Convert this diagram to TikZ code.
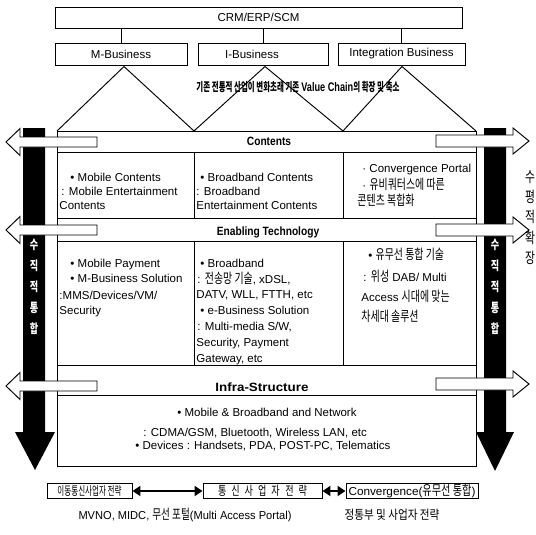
\documentclass[tikz,border=0pt]{standalone}
\usepackage{fontspec}
\usepackage{graphicx}
\setmainfont{Liberation Sans}
\newfontfamily\kr[Scale=1.2,FakeStretch=0.72]{Noto Sans CJK KR}
\newfontfamily\cb[FakeStretch=0.85]{Liberation Sans}
\newcommand\kor[1]{{\kr #1}}
\newcommand\fitw[2]{\resizebox{#1pt}{\height}{#2}}
\usetikzlibrary{arrows.meta}
\begin{document}
\begin{tikzpicture}[x=1pt,y=-1pt,line width=0.95pt,
  box/.style={draw, inner sep=0pt, font=\fontsize{11.5}{13}\selectfont},
  txt/.style={anchor=base west, inner sep=0pt, font=\fontsize{11.5}{13}\selectfont},
  ctxt/.style={anchor=base, inner sep=0pt, font=\fontsize{11.5}{13}\selectfont},
  bandlbl/.style={anchor=base, inner sep=0pt, font=\fontsize{12}{14}\cb\bfseries},
  titlelbl/.style={anchor=base, inner sep=0pt, font=\fontsize{10}{12}\cb\bfseries},
  vtxt/.style={anchor=center, inner sep=0pt, text=white, font=\fontsize{10.5}{12}\kr\bfseries},
  rtxt/.style={anchor=center, inner sep=0pt, font=\fontsize{12.5}{14}\kr},
  harrow/.style={draw, fill=white, line width=0.95pt, line join=miter},
  dblarrow/.style={{Triangle[length=8pt,width=10pt]}-{Triangle[length=8pt,width=10pt]}, line width=2.6pt}
]
\useasboundingbox (0,0) rectangle (536,535);

% top boxes
\node[box, minimum width=407pt, minimum height=21pt] (crm) at (258.5,17.5) {CRM/ERP/SCM};
\node[box, minimum width=132pt, minimum height=22pt] (mb) at (121,54) {M-Business};
\node[box, minimum width=130pt, minimum height=22pt] (ib) at (263,54) {\hspace*{-22pt}I-Business};
\node[box, minimum width=127pt, minimum height=22pt] (gb) at (401.5,54) {Integration Business};
\foreach \n in {mb,ib,gb} \draw (\n.north) -- (\n.north |- crm.south);

% zigzag
\draw (57,131) -- (124,66.5) -- (194,131) -- (265,66.5) -- (343,131) -- (402,66.5) -- (476,131);
\node[titlelbl] (vc) at (298,91.5) {\fitw{203}{\kor{기존 전통적 산업이 변화초래 기존} {\fontsize{12.5}{13}\selectfont Value Chain}\kor{의 확장 및 축소}}};

% frame
\draw (57,131) rectangle (476,466);
\foreach \y in {152,218,241,365,395} \draw (57,\y) -- (476,\y);
\foreach \x in {194,343} {\draw (\x,152) -- (\x,218); \draw (\x,241) -- (\x,365);}

% black vertical arrows
\fill (23,128) -- (45,128) -- (45,432) -- (55,432) -- (35,470) -- (15,432) -- (23,432) -- cycle;
\fill (484,128) -- (506,128) -- (506,432) -- (514,432) -- (495,471) -- (476,432) -- (484,432) -- cycle;

% white horizontal arrows
\foreach \cy in {142,230,386}
  \draw[harrow] (6,\cy) -- (20,{\cy-13.5}) -- (20,{\cy-5}) -- (97,{\cy-5}) -- (97,{\cy+5}) -- (20,{\cy+5}) -- (20,{\cy+13.5}) -- cycle;
\foreach \cy in {141,230,384}
  \draw[harrow] (529,\cy) -- (513,{\cy-13}) -- (513,{\cy-6}) -- (436,{\cy-6}) -- (436,{\cy+6}) -- (513,{\cy+6}) -- (513,{\cy+13}) -- cycle;

% vertical texts
\foreach \c [count=\i] in {수,직,적,통,합} {
  \node[vtxt] (lv\i) at (34,{224+21*\i}) {\c};
  \node[vtxt] (rv\i) at (495,{224+21*\i}) {\c};
}
\foreach \c [count=\i] in {수,평,적,확,장}
  \node[rtxt] (hv\i) at (530,{156.5+20.25*\i}) {\c};

% band labels
\node[bandlbl] (lc) at (269,146) {Contents};
\node[bandlbl] (le) at (268,235.5) {Enabling Technology};
\node[bandlbl] (li) at (262,391) {\fitw{93}{Infra-Structure}};

% contents row
\node[txt] (ca1) at (70,181) {• Mobile Contents};
\node[txt] (ca2) at (61,195) {: Mobile Entertainment};
\node[txt] (ca3) at (59,209) {Contents};
\node[txt] (cb1) at (200,181) {• Broadband Contents};
\node[txt] (cb2) at (196,195) {: Broadband};
\node[txt] (cb3) at (196,209) {Entertainment Contents};
\node[txt] (cc1) at (362,172) {· Convergence Portal};
\node[txt] (cc2) at (362,189) {· \kor{유비쿼터스에 따른}};
\node[txt] (cc3) at (357,205) {\kor{콘텐츠 복합화}};

% enabling row
\node[txt] (ea1) at (70,267) {• Mobile Payment};
\node[txt] (ea2) at (70,282) {• M-Business Solution};
\node[txt] (ea3) at (59,299) {:MMS/Devices/VM/};
\node[txt] (ea4) at (59,314) {Security};
\node[txt] (eb1) at (200,267) {• Broadband};
\node[txt] (eb2) at (197,283) {: \kor{전송망 기술}, xDSL,};
\node[txt] (eb3) at (196,298.5) {DATV, WLL, FTTH, etc};
\node[txt] (eb4) at (200,314) {• e-Business Solution};
\node[txt] (eb5) at (197,330) {: Multi-media S/W,};
\node[txt] (eb6) at (196,346) {Security, Payment};
\node[txt] (eb7) at (196,362) {Gateway, etc};
\node[txt] (ec1) at (368,259) {• \kor{유무선 통합 기술}};
\node[txt] (ec2) at (363,281) {: \kor{위성} DAB/ Multi};
\node[txt] (ec3) at (361,301) {Access \kor{시대에 맞는}};
\node[txt] (ec4) at (361,321) {\kor{차세대 솔루션}};

% infra box
\node[ctxt] (ia1) at (267,416) {• Mobile \& Broadband and Network};
\node[txt] (ia2) at (143,436) {: CDMA/GSM, Bluetooth, Wireless LAN, etc};
\node[txt] (ia3) at (135,449) {• Devices : Handsets, PDA, POST-PC, Telematics};

% bottom boxes
\node[box, minimum width=85pt, minimum height=15pt, font=\fontsize{10}{11}\kr] (s1) at (89.5,491) {\fitw{64}{이동통신사업자 전략}};
\node[box, minimum width=119pt, minimum height=15pt, font=\fontsize{10.5}{12}\kr] (s2) at (262.5,491)
  {통\hspace{5pt}신\hspace{5pt}사\hspace{5pt}업\hspace{5pt}자 \hspace{3.5pt}전\hspace{5pt}략};
\node[box, minimum width=132pt, minimum height=15pt] (s3) at (412,491) {\fitw{127}{Convergence(\kor{유무선 통합})}};
\draw[dblarrow] (s1.east) -- (s2.west);
\draw[dblarrow] (s2.east) -- (s3.west);

\node[ctxt] (bt1) at (185,519) {\fitw{213}{MVNO, MIDC, \kor{무선 포털}(Multi Access Portal)}};
\node[ctxt, font=\fontsize{10.5}{12}\kr] (bt2) at (392,519) {\fitw{95}{정통부 및 사업자 전략}};
\end{tikzpicture}
\end{document}
